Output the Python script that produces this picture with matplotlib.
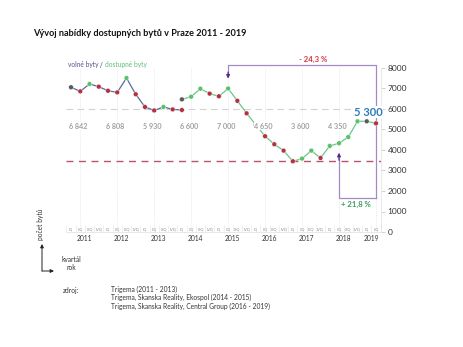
import matplotlib.pyplot as plt
import numpy as np

plt.rcParams['font.family'] = ['Lato', 'DejaVu Sans']

# data (thousands of flats, per quarter)
quarters = ['IQ', 'IIQ', 'IIIQ', 'IVQ'] * 8 + ['IQ', 'IIQ']
years = [2011, 2012, 2013, 2014, 2015, 2016, 2017, 2018, 2019]
volne = [7060, 6860, 7220, 7090, 6890, 6810, 7510, 6720, 6100, 5930, 6100, 5980, 5950]
dostupne = [6470, 6600, 6990, 6750, 6620, 7000, 6400, 5790, 5230, 4670, 4280, 3970,
            3450, 3580, 3970, 3610, 4200, 4330, 4630, 5400, 5400, 5300]
rocni = ['6 842', '6 808', '5 930', '6 600', '7 000', '4 650', '3 600', '4 350']
minimum = 3450
posledni = 5300
maximum = 7000
zdroje = ['Trigema (2011 - 2013)',
          'Trigema, Skanska Reality, Ekospol (2014 - 2015)',
          'Trigema, Skanska Reality, Central Group (2016 - 2019)']

RED = '#b2323f'
GREEN = '#5cbf6c'
GRAY = '#5a5a5a'
PURPLE_L = '#a38ac6'
PURPLE_D = '#5b2a8c'


def barvy(vals):
    out = [GRAY]
    for a, b in zip(vals[:-1], vals[1:]):
        out.append(GREEN if b > a else (RED if b < a else GRAY))
    return out


fig = plt.figure(figsize=(4.63, 3.47), dpi=100)
ax = fig.add_axes([66.4 / 463, 1 - 232 / 347, 314.2 / 463, 164 / 347])

x1 = np.arange(len(volne))
x2 = np.arange(len(dostupne)) + 12

# guide lines
for k in range(len(years)):
    ax.axvline(4 * k + 1, color='#e2e2e2', lw=0.6, ls=(0, (1, 1.5)), zorder=0)
ax.axhline(6000, color='#d2d2d2', lw=0.8, ls=(0, (6, 4)), zorder=1)
ax.axhline(minimum, color='#b5566a', lw=1.0, ls=(0, (5, 4)), zorder=1)

ax.plot(x1, volne, color='#5b6a9c', lw=0.9, zorder=3)
ax.scatter(x1, volne, s=12, c=barvy(volne), edgecolors='white', linewidths=0.3, zorder=4)
ax.plot(x2, dostupne, color='#6cc68a', lw=0.9, zorder=3)
ax.scatter(x2, dostupne, s=12, c=barvy(dostupne), edgecolors='white', linewidths=0.3, zorder=4)

# yearly values
for k, t in enumerate(rocni):
    ax.text(4 * k + 0.8, 5170, t, ha='center', va='center', fontsize=5.2,
            fontweight='bold', color='#a0a0a0', zorder=5,
            bbox=dict(fc='white', ec='none', pad=0.3))

ax.text(32.2, 5850, '5 300', ha='center', va='center', fontsize=8,
        fontweight='bold', color='#2b7bb9', zorder=6,
        bbox=dict(fc='white', ec='none', pad=0.2))

# brackets
i_max = 12 + dostupne.index(maximum)
i_end = len(quarters) - 1
ax.plot([i_max, i_max, i_end, i_end], [7700, 8150, 8150, 1650],
        color=PURPLE_L, lw=0.9, clip_on=False, zorder=2)
ax.annotate('', xy=(i_max, 7480), xytext=(i_max, 7800), annotation_clip=False,
            arrowprops=dict(arrowstyle='-|>', color=PURPLE_D, lw=0.9,
                            mutation_scale=5, shrinkA=0, shrinkB=0))
ax.plot([i_end, 29, 29], [1650, 1650, 3600], color=PURPLE_L, lw=0.9, zorder=2)
ax.annotate('', xy=(29, 3870), xytext=(29, 3500), annotation_clip=False,
            arrowprops=dict(arrowstyle='-|>', color=PURPLE_D, lw=0.9,
                            mutation_scale=5, shrinkA=0, shrinkB=0))
pokles = (posledni / maximum - 1) * 100
rust = (posledni / 4350 - 1) * 100
ax.text(26.2, 8440, f'- {abs(pokles):.1f} %'.replace('.', ','), ha='center',
        va='center', fontsize=5.6, fontweight='bold', color='#d7343d', clip_on=False)
ax.text(30.8, 1320, f'+ {rust:.1f} %'.replace('.', ','), ha='center',
        va='center', fontsize=5.6, fontweight='bold', color='#3a9e5a')

# axes
ax.set_xlim(-0.5, len(quarters) - 0.5)
ax.set_ylim(0, 8000)
ax.set_yticks(range(0, 8001, 1000))
ax.yaxis.tick_right()
ax.tick_params(axis='y', labelsize=6, colors='#cccccc', labelcolor='#333333',
               length=3, width=0.6, pad=2)
ax.set_xticks(np.arange(len(quarters) + 1) - 0.5)
ax.set_xticklabels([])
ax.tick_params(axis='x', direction='in', length=5, width=0.4, colors='#e4e4e4')
for s in ['top', 'left']:
    ax.spines[s].set_visible(False)
for s in ['bottom', 'right']:
    ax.spines[s].set_color('#e4e4e4')
    ax.spines[s].set_linewidth(0.6)

for i, q in enumerate(quarters):
    ax.text(i, 110, q, ha='center', va='center', fontsize=2.8, color='#8a8a8a')
for k, r in enumerate(years):
    xr = 4 * k + 1.5 if r < 2019 else 32.5
    ax.text(xr, -300, str(r), ha='center', va='center', fontsize=4.8,
            color='#333333', clip_on=False)

# texts around
fig.text(33 / 463, 1 - 33 / 347, 'Vývoj nabídky dostupných bytů v Praze 2011 - 2019',
         fontsize=6.6, fontweight='bold', va='center', color='#111111')
t = fig.text(68 / 463, 1 - 65 / 347, 'volné byty', fontsize=4.8, va='center', color='#55558f')
fig.canvas.draw()
bb = t.get_window_extent()
t2 = fig.text(bb.x1 / 463, 1 - 65 / 347, ' / ', fontsize=4.8, va='center', color='#333333')
bb = t2.get_window_extent()
fig.text(bb.x1 / 463, 1 - 65 / 347, 'dostupné byty', fontsize=4.8, va='center', color='#5dbf7a')

fig.text(41 / 463, 1 - 224 / 347, 'počet bytů', rotation=90, fontsize=4.8,
         ha='center', va='center', color='#333333')
fig.add_artist(plt.matplotlib.patches.FancyArrowPatch(
    (42 / 463, 1 - 271 / 347), (42 / 463, 1 - 244 / 347), transform=fig.transFigure,
    arrowstyle='-|>', mutation_scale=5, color='#222222', lw=0.7, shrinkA=0, shrinkB=0))
fig.add_artist(plt.matplotlib.patches.FancyArrowPatch(
    (42 / 463, 1 - 271 / 347), (54 / 463, 1 - 271 / 347), transform=fig.transFigure,
    arrowstyle='-|>', mutation_scale=5, color='#222222', lw=0.7, shrinkA=0, shrinkB=0))
fig.text(71 / 463, 1 - 259 / 347, 'kvartál', fontsize=4.8, ha='center', va='center', color='#333333')
fig.text(71 / 463, 1 - 267 / 347, 'rok', fontsize=4.8, ha='center', va='center', color='#333333')

fig.text(63 / 463, 1 - 290 / 347, 'zdroj:', fontsize=4.8, va='center', color='#333333')
for k, z in enumerate(zdroje):
    fig.text(111 / 463, 1 - (289.5 + 8.3 * k) / 347, z, fontsize=4.8, va='center', color='#333333')

fig.savefig('out.png', dpi=100)
